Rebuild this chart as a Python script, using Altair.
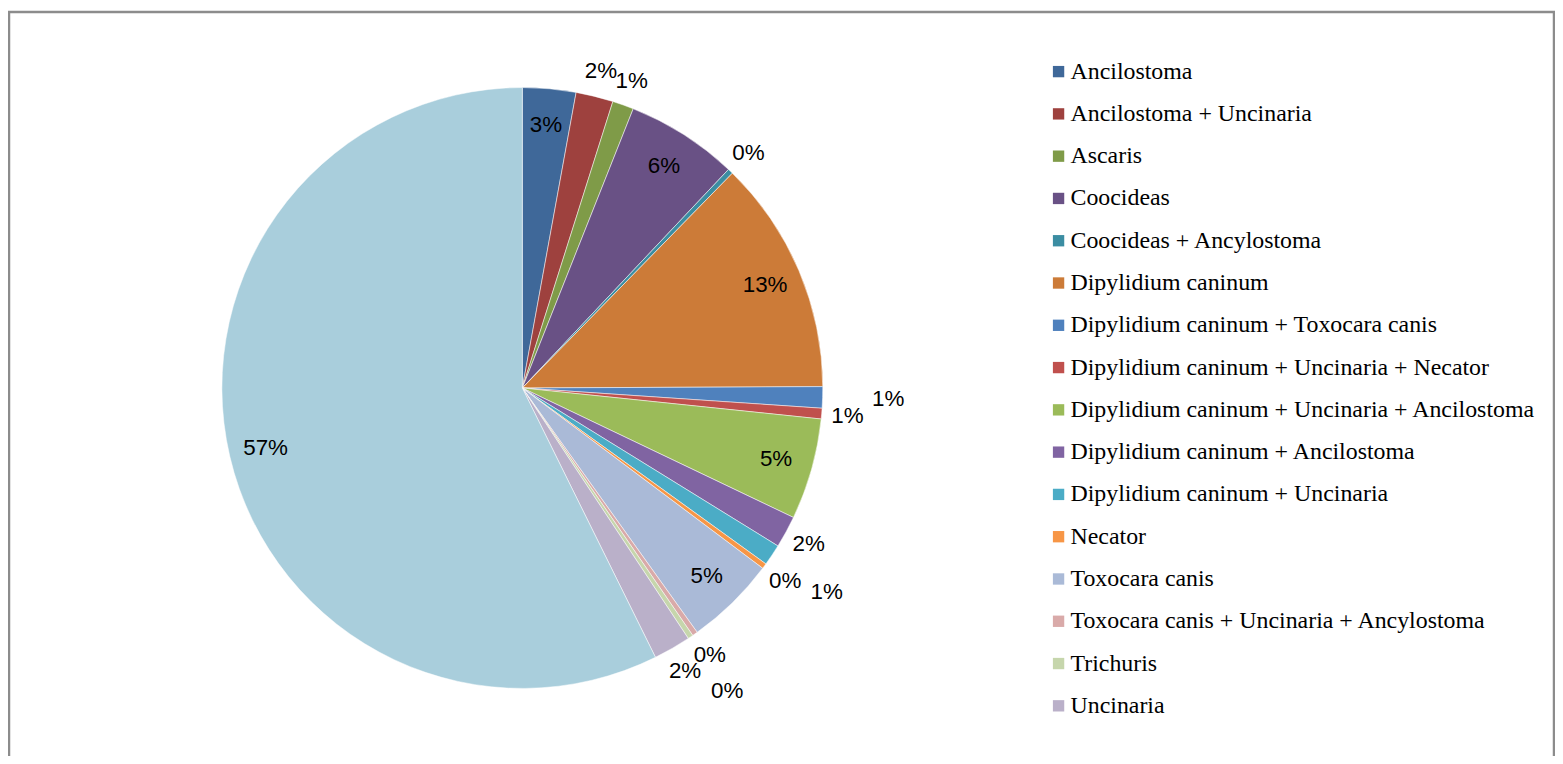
import altair as alt
import pandas as pd

categories = [
    "Ancilostoma",
    "Ancilostoma + Uncinaria",
    "Ascaris",
    "Coocideas",
    "Coocideas + Ancylostoma",
    "Dipylidium caninum",
    "Dipylidium caninum + Toxocara canis",
    "Dipylidium caninum + Uncinaria + Necator",
    "Dipylidium caninum + Uncinaria + Ancilostoma",
    "Dipylidium caninum + Ancilostoma",
    "Dipylidium caninum + Uncinaria",
    "Necator",
    "Toxocara canis",
    "Toxocara canis + Uncinaria + Ancylostoma",
    "Trichuris",
    "Uncinaria",
    "Negativo",
]
counts = [10, 7, 4, 21, 1, 44, 4, 2, 19, 6, 4, 1, 17, 1, 1, 7, 200]
colors = [
    "#3F6899", "#9E413E", "#7F9B48", "#695185", "#3B8DA2", "#CC7B38",
    "#4F81BD", "#C0504D", "#9BBB59", "#8064A2", "#4BACC6", "#F79646",
    "#AABAD7", "#D9AAA9", "#C6D6AC", "#BAB0C9", "#A9CEDC",
]
legend_values = categories[:16]
far_labels = [
    "Dipylidium caninum + Toxocara canis",
    "Dipylidium caninum + Uncinaria",
    "Trichuris",
]

df = pd.DataFrame({"category": categories, "count": counts, "idx": list(range(len(categories)))})

CX, CY, R = 517, 380, 302
far_expr = " || ".join(f"datum.category === '{c}'" for c in far_labels)

pie = alt.Chart(df).mark_arc(outerRadius=R, stroke="white", strokeWidth=0.5).encode(
    theta=alt.Theta("count:Q", stack=True),
    color=alt.Color(
        "category:N",
        scale=alt.Scale(domain=categories, range=colors),
        sort=categories,
        legend=alt.Legend(
            orient="none",
            legendX=1044,
            legendY=50,
            title=None,
            values=legend_values,
            labelFont="Liberation Serif",
            labelFontSize=24,
            labelColor="black",
            labelLimit=700,
            labelOffset=0,
            symbolType="square",
            symbolSize=130,
            symbolStrokeWidth=0,
            rowPadding=18.5,
        ),
    ),
    order=alt.Order("idx:Q"),
    x=alt.value(CX),
    y=alt.value(CY),
)

labels = (
    alt.Chart(df)
    .transform_joinaggregate(total="sum(count)")
    .transform_window(cum="sum(count)", sort=[alt.SortField("idx")], frame=[None, 0])
    .transform_calculate(
        pct="datum.count / datum.total",
        mid="(datum.cum - datum.count / 2) / datum.total * 2 * PI",
    )
    .transform_calculate(lr=f"datum.pct >= 0.025 ? 265 : (({far_expr}) ? 368 : 328)")
    .transform_calculate(
        lx=f"{CX} + datum.lr * sin(datum.mid)",
        ly=f"{CY} - datum.lr * cos(datum.mid)",
    )
    .mark_text(font="Liberation Sans", fontSize=22.5, color="black")
    .encode(
        x=alt.X("lx:Q", scale=None, axis=None),
        y=alt.Y("ly:Q", scale=None, axis=None),
        text=alt.Text("pct:Q", format=".0%"),
    )
)

bdf = pd.DataFrame({"a": [0]})
border_top = alt.Chart(bdf).mark_rule(color="#8C8C8C", strokeWidth=2.5).encode(
    x=alt.value(0), x2=alt.value(1555), y=alt.value(2)
)
border_left = alt.Chart(bdf).mark_rule(color="#8C8C8C", strokeWidth=2.5).encode(
    x=alt.value(1), y=alt.value(1), y2=alt.value(780)
)
border_right = alt.Chart(bdf).mark_rule(color="#8C8C8C", strokeWidth=2.5).encode(
    x=alt.value(1554), y=alt.value(1), y2=alt.value(780)
)

chart = alt.layer(pie, labels, border_top, border_left, border_right).properties(
    width=1555, height=748, padding=0, autosize="none"
).configure_view(stroke=None)

chart.save("out.html", embed_options={"renderer": "svg", "actions": False})
